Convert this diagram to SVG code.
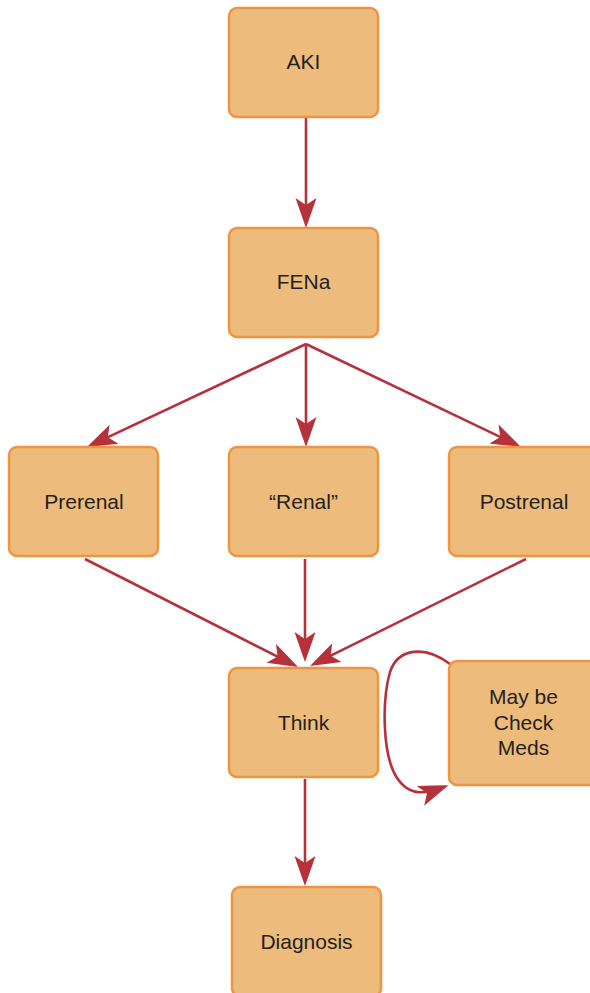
<svg xmlns="http://www.w3.org/2000/svg" width="590" height="993" viewBox="0 0 590 993">
<style>
.box{fill:#EDBB7B;stroke:#EF9440;stroke-width:2.5}
.lbl{font-family:"Liberation Sans",Arial,sans-serif;font-size:21px;fill:#231F20;text-anchor:middle}
.edge{fill:none;stroke:#B5323A;stroke-width:2.6;marker-end:url(#ah)}
</style>
<defs>
<marker id="ah" markerUnits="userSpaceOnUse" markerWidth="32" markerHeight="24" viewBox="0 -12 32 24" refX="22" refY="0" orient="auto">
<path d="M30,0 Q16,-5 0,-10.5 L7,0 L0,10.5 Q16,5 30,0 Z" fill="#B5323A"/>
</marker>
</defs>
<rect width="590" height="993" fill="#fff"/>
<g id="connectors">
<path class="edge" d="M306,118 L306,220"/>
<path class="edge" d="M306,344 L94.2,443.6"/>
<path class="edge" d="M306,344 L306,439"/>
<path class="edge" d="M306,344 L513.8,443.5"/>
<path class="edge" d="M85,559 L290.9,663.4"/>
<path class="edge" d="M305,559 L305,654"/>
<path class="edge" d="M526,559 L317.2,662.4"/>
<path class="edge" d="M305,779 L305,878"/>
<path class="edge" d="M450,664 C425,645 398,648 390,672 C382,700 382,755 397,778 C407,793 420,796 441,788"/>
</g>
<g id="aki"><rect class="box" x="229" y="8" width="149" height="109" rx="8"/><text class="lbl" x="303.5" y="69">AKI</text></g>
<g id="fena"><rect class="box" x="229" y="228" width="149" height="109" rx="8"/><text class="lbl" x="303.5" y="289">FENa</text></g>
<g id="prerenal"><rect class="box" x="9" y="447" width="149" height="109" rx="8"/><text class="lbl" x="84" y="509">Prerenal</text></g>
<g id="renal"><rect class="box" x="229" y="447" width="149" height="109" rx="8"/><text class="lbl" x="303.5" y="509">“Renal”</text></g>
<g id="postrenal"><rect class="box" x="449" y="447" width="149" height="109" rx="8"/><text class="lbl" x="524" y="509">Postrenal</text></g>
<g id="think"><rect class="box" x="229" y="668" width="149" height="109" rx="8"/><text class="lbl" x="303.5" y="730">Think</text></g>
<g id="meds"><rect class="box" x="449" y="661" width="149" height="124" rx="8"/><text class="lbl" x="523.5" y="704">May be</text><text class="lbl" x="523.5" y="730">Check</text><text class="lbl" x="523.5" y="755">Meds</text></g>
<g id="diagnosis"><rect class="box" x="232" y="887" width="149" height="109" rx="8"/><text class="lbl" x="306.5" y="949">Diagnosis</text></g>
</svg>
